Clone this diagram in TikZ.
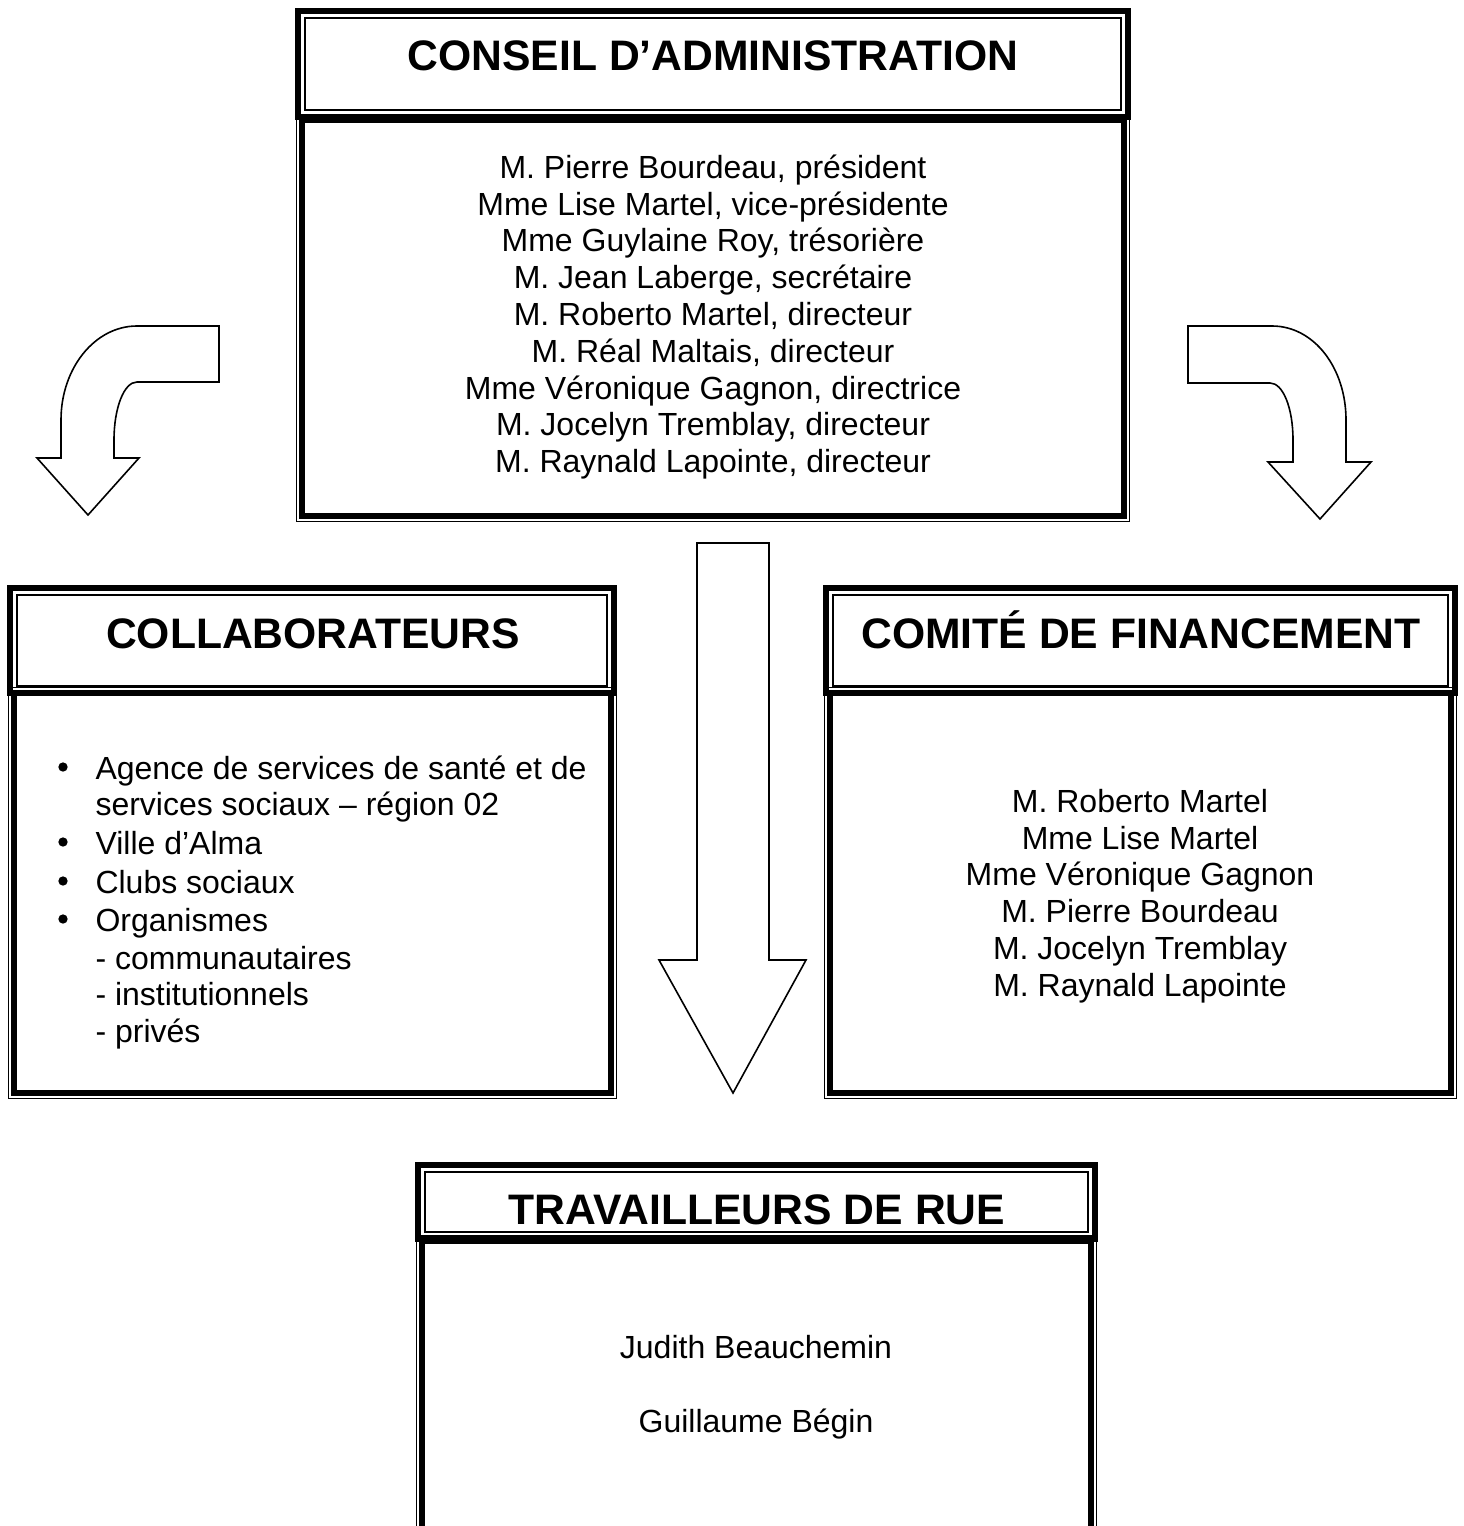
\documentclass[tikz,border=0pt]{standalone}
\usepackage{fontspec}
\setmainfont{Liberation Sans}
\tikzset{
   thickline/.style={line width=2.25pt},
   thinline/.style={line width=0.45pt},
   heading/.style={anchor=base, font=\fontsize{16}{19}\selectfont\bfseries},
   names/.style={align=center, font=\fontsize{12}{13.8}\selectfont},
   entry/.style={anchor=base west, inner sep=0pt, font=\fontsize{12}{13.8}\selectfont},
   dot/.style={circle, fill, inner sep=0pt, minimum size=3.5pt},
   bigarrow/.style={draw, line width=0.6pt, line join=miter}
}
\begin{document}
\begin{tikzpicture}[x=0.375pt, y=-0.375pt]
   \useasboundingbox (0,0) rectangle (1463,1526);
   \clip (0,0) rectangle (1463,1526);
   \def \Heads {
      295/8/1131/120,
      7/585/617/696,
      823/585/1458/696,
      415/1162/1098/1242}
   \def \Bodies {
      295/113/1131/523,
      7/686/618/1100,
      823/686/1458/1100,
      415/1234/1098/1540}
   \foreach \xa / \ya / \xb / \yb in \Heads {
      \draw[thickline] (\xa+3, \ya+3) rectangle (\xb-3, \yb-3);
      \draw[thinline] (\xa+10, \ya+10) rectangle (\xb-10, \yb-10);
   }
   \foreach \xa / \ya / \xb / \yb in \Bodies {
      \draw[thinline] (\xa+1.5, \ya+1.5) rectangle (\xb-1.5, \yb-1.5);
      \draw[thickline] (\xa+7, \ya+7) rectangle (\xb-7, \yb-7);
   }
   % titres
   \node[heading] (conseil) at (713,71) {CONSEIL D’ADMINISTRATION};
   \node[heading] (collab) at (313,648) {COLLABORATEURS};
   \node[heading] (comite) at (1141,648) {COMITÉ DE FINANCEMENT};
   \node[heading] (travail) at (757,1224) {TRAVAILLEURS DE RUE};
   % contenu
   \node[names] (membres) at (713,317) {M. Pierre Bourdeau, président\\
      Mme Lise Martel, vice-présidente\\
      Mme Guylaine Roy, trésorière\\
      M. Jean Laberge, secrétaire\\
      M. Roberto Martel, directeur\\
      M. Réal Maltais, directeur\\
      Mme Véronique Gagnon, directrice\\
      M. Jocelyn Tremblay, directeur\\
      M. Raynald Lapointe, directeur};
   \node[names] (financement) at (1140,896) {M. Roberto Martel\\
      Mme Lise Martel\\
      Mme Véronique Gagnon\\
      M. Pierre Bourdeau\\
      M. Jocelyn Tremblay\\
      M. Raynald Lapointe};
   \node[names] (rue) at (756,1387) {Judith Beauchemin\\[13.8pt]
      Guillaume Bégin};
   \foreach \y / \t in {
      767/{Agence de services de santé et de},
      803/{services sociaux – région 02},
      842/{Ville d’Alma},
      881/{Clubs sociaux},
      919/{Organismes},
      957/{- communautaires},
      993/{- institutionnels},
      1030/{- privés}} {
      \node[entry] (item\y) at (95,\y+12) {\t};
   }
   \foreach \y in {767, 842, 881, 919} {
      \node[dot] (puce\y) at (63,\y) {};
   }
   % fleches
   \draw[bigarrow] (219,326) -- (137,326)
      .. controls (95,326) and (61,368) .. (61,420) -- (61,458) -- (37,458)
      -- (88,515) -- (139,458) -- (114,458) -- (114,440)
      .. controls (114,408) and (124,382) .. (137,382) -- (219,382) -- cycle;
   \draw[bigarrow] (1188,326) -- (1272,326)
      .. controls (1314,326) and (1346,368) .. (1346,420) -- (1346,462) -- (1371,462)
      -- (1320,519) -- (1268,462) -- (1293,462) -- (1293,440)
      .. controls (1293,408) and (1283,383) .. (1270,383) -- (1188,383) -- cycle;
   \draw[bigarrow] (697,543) -- (769,543) -- (769,960) -- (806,960)
      -- (733,1093) -- (659,960) -- (697,960) -- cycle;
\end{tikzpicture}
\end{document}
